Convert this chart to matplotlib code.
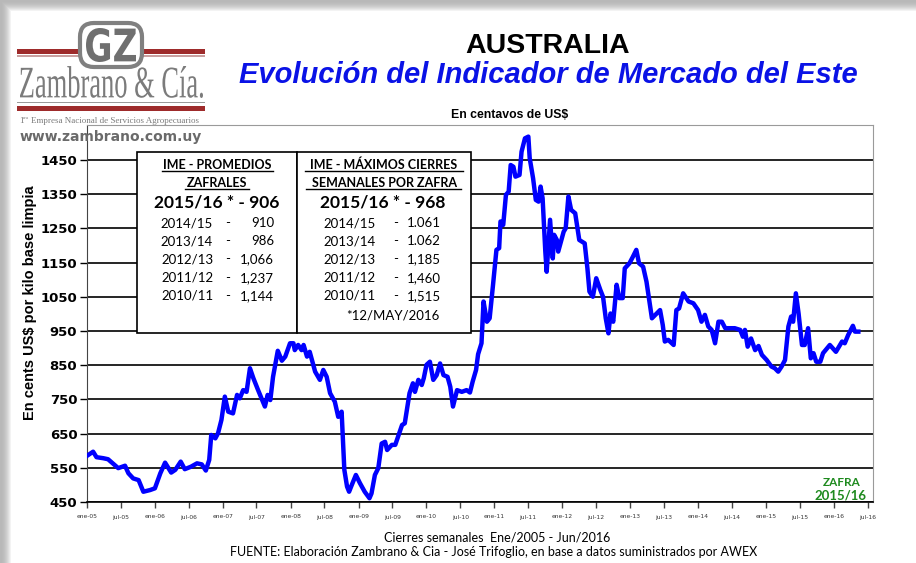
import numpy as np
import matplotlib
matplotlib.use('Agg')
import matplotlib.pyplot as plt
from matplotlib.patches import Rectangle, FancyBboxPatch, PathPatch
from matplotlib.textpath import TextPath
from matplotlib.font_manager import FontProperties
from matplotlib.transforms import Affine2D

W, H = 916, 563

# IME semanal (años decimales) - cents US$ / kg base limpia
fechas = [2005.00, 2005.09, 2005.14, 2005.24, 2005.31, 2005.46, 2005.56, 2005.61, 2005.68, 2005.76,
          2005.83, 2005.93, 2006.00, 2006.08, 2006.15, 2006.24, 2006.30, 2006.38, 2006.44, 2006.53,
          2006.62, 2006.69, 2006.75, 2006.80, 2006.83, 2006.89, 2006.93, 2006.98, 2007.03, 2007.08,
          2007.15, 2007.21, 2007.25, 2007.30, 2007.35, 2007.40, 2007.45, 2007.52, 2007.62, 2007.66,
          2007.70, 2007.74, 2007.81, 2007.87, 2007.92, 2007.99, 2008.04, 2008.06, 2008.11, 2008.16,
          2008.19, 2008.24, 2008.28, 2008.36, 2008.43, 2008.48, 2008.53, 2008.58, 2008.65, 2008.70,
          2008.75, 2008.79, 2008.83, 2008.86, 2008.90, 2008.96, 2009.02, 2009.09, 2009.16, 2009.19,
          2009.24, 2009.29, 2009.34, 2009.39, 2009.42, 2009.49, 2009.54, 2009.59, 2009.64, 2009.68,
          2009.75, 2009.80, 2009.83, 2009.88, 2009.93, 2009.96, 2010.00, 2010.05, 2010.10, 2010.15,
          2010.20, 2010.25, 2010.31, 2010.35, 2010.39, 2010.45, 2010.52, 2010.59, 2010.64, 2010.68,
          2010.73, 2010.76, 2010.81, 2010.84, 2010.89, 2010.93, 2010.98, 2011.03, 2011.07, 2011.09,
          2011.13, 2011.17, 2011.21, 2011.24, 2011.28, 2011.31, 2011.37, 2011.40, 2011.45, 2011.50,
          2011.52, 2011.57, 2011.61, 2011.65, 2011.68, 2011.71, 2011.75, 2011.77, 2011.82, 2011.86,
          2011.88, 2011.92, 2011.94, 2012.02, 2012.05, 2012.09, 2012.13, 2012.19, 2012.25, 2012.33,
          2012.37, 2012.40, 2012.45, 2012.50, 2012.56, 2012.60, 2012.64, 2012.68, 2012.71, 2012.75,
          2012.80, 2012.84, 2012.89, 2012.92, 2012.99, 2013.04, 2013.09, 2013.13, 2013.19, 2013.24,
          2013.32, 2013.37, 2013.44, 2013.48, 2013.51, 2013.56, 2013.64, 2013.68, 2013.72, 2013.78,
          2013.86, 2013.93, 2014.00, 2014.05, 2014.10, 2014.15, 2014.20, 2014.25, 2014.30, 2014.35,
          2014.40, 2014.47, 2014.54, 2014.62, 2014.66, 2014.69, 2014.73, 2014.78, 2014.84, 2014.89,
          2014.94, 2015.01, 2015.08, 2015.13, 2015.18, 2015.23, 2015.28, 2015.33, 2015.37, 2015.40,
          2015.44, 2015.48, 2015.53, 2015.57, 2015.62, 2015.66, 2015.70, 2015.74, 2015.80, 2015.84,
          2015.94, 2016.03, 2016.12, 2016.16, 2016.21, 2016.28, 2016.31, 2016.36]
ime = [585, 597, 581, 578, 575, 549, 556, 534, 519, 514,
       480, 485, 490, 534, 565, 536, 544, 568, 546, 553,
       563, 560, 542, 573, 646, 636, 651, 690, 758, 714,
       709, 763, 753, 777, 772, 841, 812, 777, 729, 763,
       748, 816, 892, 863, 875, 914, 914, 894, 909, 894,
       909, 875, 889, 831, 807, 836, 816, 768, 743, 699,
       714, 544, 495, 480, 500, 529, 505, 480, 461, 475,
       529, 549, 621, 626, 602, 617, 617, 646, 675, 680,
       768, 797, 772, 807, 792, 812, 851, 860, 807, 821,
       855, 821, 816, 787, 729, 777, 772, 777, 770, 802,
       836, 882, 914, 1036, 977, 987, 1085, 1187, 1192, 1270,
       1260, 1348, 1357, 1435, 1430, 1401, 1406, 1474, 1513, 1518,
       1455, 1396, 1333, 1328, 1372, 1338, 1182, 1123, 1275, 1162,
       1231, 1216, 1182, 1240, 1250, 1343, 1304, 1294, 1216, 1206,
       1133, 1065, 1050, 1104, 1070, 1050, 987, 943, 1001, 977,
       1085, 1046, 1046, 1133, 1148, 1167, 1187, 1148, 1138, 1094,
       987, 997, 1011, 967, 919, 924, 909, 1011, 1016, 1060,
       1036, 1031, 1011, 977, 997, 963, 953, 914, 977, 977,
       958, 958, 958, 953, 933, 953, 904, 928, 894, 906,
       880, 865, 846, 841, 831, 846, 865, 963, 992, 977,
       1060, 1001, 909, 909, 958, 870, 885, 860, 860, 885,
       909, 889, 919, 914, 938, 965, 948, 948]

y_ticks = list(range(450, 1451, 100))
anios = list(range(2005, 2017))
x_ticks = [a + m for a in anios for m in (0.0, 181 / 365)]
x_labels = ['%s-%02d' % (m, a % 100) for a in anios for m in ('ene', 'jul')]

promedios_actual = '2015/16 * - 906'
promedios = [('2014/15', '910'), ('2013/14', '986'), ('2012/13', '1,066'),
             ('2011/12', '1,237'), ('2010/11', '1,144')]
maximos_actual = '2015/16 * - 968'
maximos = [('2014/15', '1.061'), ('2013/14', '1.062'), ('2012/13', '1,185'),
           ('2011/12', '1,460'), ('2010/11', '1,515')]

CAL = ['Lato', 'DejaVu Sans']
GRIS = '#7b7b7b'
ROJO = '#9e2b2b'

fig = plt.figure(figsize=(W / 100, H / 100), dpi=100)
px = Affine2D().scale(1 / W, 1 / H) + fig.transFigure


def fx(x):
    return x / W


def fy(y):
    return 1 - y / H


# fondo con sombra gris arriba e izquierda
bg = fig.add_axes([0, 0, 1, 1], zorder=-10)
img = np.ones((H, W))
for i in range(12):
    g = 0.72 + 0.28 * (i / 11) ** 2
    img[i, i:] = np.minimum(img[i, i:], g)
    img[i:, i] = np.minimum(img[i:, i], g)
bg.imshow(img, cmap='gray', vmin=0, vmax=1, aspect='auto', interpolation='bilinear')
bg.axis('off')

# grafico principal
ax = fig.add_axes([fx(87), fy(502), fx(873) - fx(87), fy(125) - fy(502)])
ax.plot(fechas, ime, color='#0000ff', lw=3.2, solid_joinstyle='round', zorder=4)
ax.set_xlim(2005.0, 2016.576)
ax.set_ylim(450, 1552)
ax.set_yticks(y_ticks)
ax.set_yticklabels([str(v) for v in y_ticks], fontweight='bold', fontsize=9.5, family='DejaVu Sans')
ax.set_xticks(x_ticks)
ax.set_xticklabels(x_labels, fontsize=4.3, color='#333333')
ax.tick_params(axis='y', length=5, width=1, color='black', pad=2)
ax.tick_params(axis='x', length=4, width=1, color='#444444', pad=5)
ax.yaxis.grid(True, color='black', lw=1.2)
ax.set_axisbelow(True)
ax.spines['left'].set_color('#444444')
ax.spines['bottom'].set_color('black')
ax.spines['bottom'].set_linewidth(1.2)
ax.spines['top'].set_color('#9a9a9a')
ax.spines['right'].set_color('#9a9a9a')

# titulos
fig.text(fx(548), fy(46), 'AUSTRALIA', ha='center', va='center', fontsize=20.5,
         fontweight='bold', family='Liberation Sans')
fig.text(fx(548), fy(75), 'Evolución del Indicador de Mercado del Este', ha='center', va='center',
         fontsize=21, fontweight='bold', style='italic', color='#0a12e6', family='Liberation Sans')
fig.text(fx(510), fy(115), 'En centavos de US$', ha='center', va='center', fontsize=8.8,
         fontweight='bold', family='Liberation Sans')
fig.text(fx(30), fy(303), 'En cents US$ por kilo base limpia', rotation=90, ha='center', va='center',
         fontsize=10.5, fontweight='bold', family='Liberation Sans')
fig.text(fx(497), fy(537), 'Cierres semanales  Ene/2005 - Jun/2016', ha='center', va='center',
         fontsize=9, family=CAL)
fig.text(fx(494), fy(552), 'FUENTE: Elaboración Zambrano & Cia - José Trifoglio, en base a datos suministrados por AWEX',
         ha='center', va='center', fontsize=9, family=CAL)
fig.text(fx(842), fy(482), 'ZAFRA', ha='center', va='center', fontsize=8.5, fontweight='bold',
         color='#1e8a1e', family=CAL, zorder=6)
fig.text(fx(840), fy(496), '2015/16', ha='center', va='center', fontsize=9.5, fontweight='bold',
         color='#1e8a1e', family=CAL, zorder=6)

# cuadros de promedios y maximos
for x0, x1 in [(137, 297), (297, 471)]:
    fig.patches.append(Rectangle((fx(x0), fy(333)), fx(x1) - fx(x0), fy(152) - fy(333),
                                 transform=fig.transFigure, fc='white', ec='black', lw=1.2, zorder=5))


def encabezado(s, xc, y, x0, x1):
    fig.text(fx(xc), fy(y), s, ha='center', va='center', fontsize=9, fontweight='bold',
             family=CAL, zorder=6)
    fig.lines.append(plt.Line2D([fx(x0), fx(x1)], [fy(y + 6), fy(y + 6)], transform=fig.transFigure,
                                color='black', lw=1, zorder=6))


encabezado('IME - PROMEDIOS', 217, 165, 162, 273)
encabezado('ZAFRALES', 217, 183, 185, 249)
encabezado('IME - MÁXIMOS CIERRES', 384, 165, 305, 463)
encabezado('SEMANALES POR ZAFRA', 384, 183, 306, 461)
fig.text(fx(217), fy(203), promedios_actual, ha='center', va='center', fontsize=12.5,
         fontweight='bold', family=CAL, zorder=6)
fig.text(fx(383), fy(203), maximos_actual, ha='center', va='center', fontsize=12.5,
         fontweight='bold', family=CAL, zorder=6)
filas_y = [223, 241, 259, 278, 296]
for (zafra, val), y in zip(promedios, filas_y):
    fig.text(fx(187), fy(y), zafra, ha='center', va='center', fontsize=9.5, family=CAL, zorder=6)
    fig.text(fx(228), fy(y), '-', ha='center', va='center', fontsize=9.5, family=CAL, zorder=6)
    fig.text(fx(274), fy(y), val, ha='right', va='center', fontsize=9.5, family=CAL, zorder=6)
for (zafra, val), y in zip(maximos, filas_y):
    fig.text(fx(350), fy(y), zafra, ha='center', va='center', fontsize=9.5, family=CAL, zorder=6)
    fig.text(fx(396), fy(y), '-', ha='center', va='center', fontsize=9.5, family=CAL, zorder=6)
    fig.text(fx(441), fy(y), val, ha='right', va='center', fontsize=9.5, family=CAL, zorder=6)
fig.text(fx(393), fy(315), '*12/MAY/2016', ha='center', va='center', fontsize=9.5, family=CAL, zorder=6)


# logo
def texto_ajustado(s, x0, y0, x1, y1, color, family, weight='normal'):
    tp = TextPath((0, 0), s, size=10, prop=FontProperties(family=family, weight=weight))
    bb = tp.get_extents()
    tr = (Affine2D().translate(-bb.x0, -bb.y0)
          .scale((x1 - x0) / bb.width, (y1 - y0) / bb.height)
          .translate(x0, H - y1) + px)
    fig.patches.append(PathPatch(tp, transform=tr, fc=color, ec='none', zorder=6))


def barra(x0, x1, y0, y1, color):
    fig.patches.append(Rectangle((x0, H - y1), x1 - x0, y1 - y0, transform=px,
                                 fc=color, ec='none', zorder=5))


barra(17, 80, 49, 53.5, ROJO)
barra(17, 80, 55, 56.5, '#c9a0a0')
barra(141, 205, 49, 53.5, ROJO)
barra(141, 205, 55, 56.5, '#c9a0a0')
fig.patches.append(FancyBboxPatch((80, H - 67), 62, 44, boxstyle='round,pad=0,rounding_size=14',
                                  transform=px, fc='white', ec='#808080', lw=3, zorder=5))
texto_ajustado('GZ', 86, 28, 136, 62, '#6f6f6f', 'DejaVu Sans', 'bold')
texto_ajustado('Zambrano & Cía.', 20, 66, 203, 98, GRIS, 'Liberation Serif')
barra(17, 205, 101.5, 103, '#9a9a9a')
barra(17, 205, 106, 110.5, ROJO)
fig.text(fx(19), fy(121), '1', ha='left', va='center', fontsize=6.5, color=GRIS,
         family='Liberation Serif', zorder=6)
fig.text(fx(23), fy(118), 'era', ha='left', va='center', fontsize=3.5, color=GRIS,
         family='Liberation Serif', zorder=6)
fig.text(fx(31), fy(121), 'Empresa Nacional de Servicios Agropecuarios', ha='left', va='center',
         fontsize=6.5, color=GRIS, family='Liberation Serif', zorder=6)
fig.text(fx(111), fy(137), 'www.zambrano.com.uy', ha='center', va='center', fontsize=10,
         fontweight='bold', color='#6a6a6a', family='DejaVu Sans', zorder=6)

fig.savefig('out.png', dpi=100)
